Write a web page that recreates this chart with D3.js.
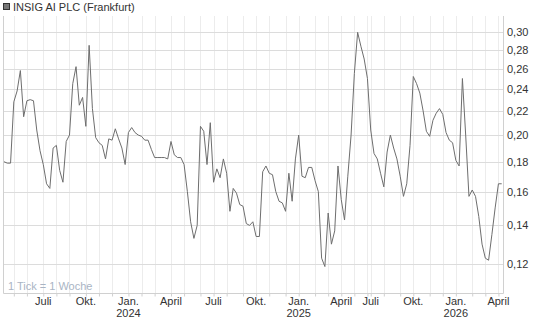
<!DOCTYPE html>
<html>
<head>
<meta charset="utf-8">
<script src="https://cdn.jsdelivr.net/npm/d3@7"></script>
<style>
body { margin: 0; background: #fff; }
text { font-family: "Liberation Sans", Arial, sans-serif; }
</style>
</head>
<body>
<svg width="545" height="327"></svg>
<script>
var title = "INSIG AI PLC (Frankfurt)";
var tickNote = "1 Tick = 1 Woche";

// weekly closes, one per week starting with this Friday
var firstWeek = "2023-04-14";
// no quotes for a few weeks after this date
var gapAfter = "2025-05-23", gapWeeks = 4;

var prices = [
  0.180, 0.179, 0.179, 0.228, 0.238, 0.258, 0.215, 0.229, 0.230, 0.229,
  0.204, 0.188, 0.178, 0.165, 0.162, 0.190, 0.192, 0.174, 0.166, 0.195,
  0.200, 0.245, 0.262, 0.225, 0.232, 0.207, 0.285, 0.222, 0.198, 0.194,
  0.192, 0.182, 0.197, 0.196, 0.205, 0.197, 0.190, 0.178, 0.202, 0.206,
  0.202, 0.200, 0.199, 0.196, 0.196, 0.189, 0.183, 0.183, 0.183, 0.183,
  0.182, 0.195, 0.185, 0.183, 0.183, 0.178, 0.160, 0.142, 0.133, 0.140,
  0.207, 0.203, 0.178, 0.210, 0.166, 0.175, 0.169, 0.182, 0.172, 0.148,
  0.162, 0.159, 0.152, 0.151, 0.141, 0.140, 0.142, 0.134, 0.134, 0.173,
  0.177, 0.172, 0.171, 0.160, 0.154, 0.153, 0.148, 0.172, 0.154, 0.182,
  0.200, 0.170, 0.169, 0.176, 0.176, 0.167, 0.160, 0.123, 0.119, 0.147,
  0.130, 0.137, 0.177, 0.155, 0.143, 0.170, 0.200, 0.255, 0.300, 0.284,
  0.270, 0.250, 0.204, 0.186, 0.182, 0.172, 0.163, 0.187, 0.200, 0.190,
  0.182, 0.170, 0.157, 0.165, 0.192, 0.252, 0.245, 0.236, 0.220, 0.203,
  0.199, 0.212, 0.218, 0.222, 0.217, 0.202, 0.196, 0.194, 0.181, 0.177,
  0.250, 0.200, 0.157, 0.161, 0.157, 0.145, 0.130, 0.123, 0.122, 0.135,
  0.150, 0.165, 0.165
];

var yTicks = [0.12, 0.14, 0.16, 0.18, 0.20, 0.22, 0.24, 0.26, 0.28, 0.30];
var yDomain = [0.1072, 0.320];
// labelled months (0 = Jan.)
var monthLabels = { 0: "Jan.", 3: "April", 6: "Juli", 9: "Okt." };

var svg = d3.select("svg");
var plotLeft = 3, plotRight = 503, plotTop = 16, plotBottom = 293;

// dates of the weekly points
var parse = d3.timeParse("%Y-%m-%d");
var gapDate = parse(gapAfter);
var dates = [];
var d = parse(firstWeek);
prices.forEach(function() {
  dates.push(d);
  var step = +d === +gapDate ? 7 * (gapWeeks + 1) : 7;
  d = d3.timeDay.offset(d, step);
});

// first point of every month (skip the very first point)
var monthStarts = [];
dates.forEach(function(dt, i) {
  if (i > 0 && dt.getMonth() !== dates[i - 1].getMonth()) monthStarts.push(i);
});

var x = d3.scaleLinear().domain([0, prices.length - 1]).range([4, 501.7]);
var y = d3.scaleLog().domain(yDomain).range([plotBottom, plotTop]);

// vertical grid
svg.append("g")
  .attr("transform", "translate(0," + plotBottom + ")")
  .call(d3.axisBottom(x).tickValues(monthStarts).tickSize(-(plotBottom - plotTop)).tickFormat(""))
  .call(function(g) {
    g.select(".domain").remove();
    g.selectAll("line").attr("stroke", "#ececec").attr("shape-rendering", "crispEdges");
  });

// horizontal grid
svg.append("g")
  .attr("transform", "translate(" + plotLeft + ",0)")
  .call(d3.axisLeft(y).tickValues(yTicks).tickSize(-(plotRight - plotLeft)).tickFormat(""))
  .call(function(g) {
    g.select(".domain").remove();
    g.selectAll("line").attr("stroke", "#dcdcdc").attr("shape-rendering", "crispEdges");
  });

// frame
svg.append("path")
  .attr("d", "M" + (plotLeft + 0.5) + "," + plotTop + "V" + (plotBottom + 0.5) + "H" + (plotRight + 0.5) + "V" + plotTop)
  .attr("fill", "none")
  .attr("stroke", "#d0d0d0");

// small ticks under the frame
svg.append("g")
  .attr("transform", "translate(0," + (plotBottom + 0.5) + ")")
  .call(d3.axisBottom(x).tickValues(monthStarts).tickSize(3).tickFormat(""))
  .call(function(g) {
    g.select(".domain").remove();
    g.selectAll("line").attr("stroke", "#d0d0d0");
  });

// price line
var line = d3.line()
  .x(function(v, i) { return x(i); })
  .y(function(v) { return y(v); });

svg.append("path")
  .datum(prices)
  .attr("fill", "none")
  .attr("stroke", "#6e6e6e")
  .attr("stroke-width", 1)
  .attr("d", line);

// y labels on the right
svg.append("g")
  .attr("transform", "translate(" + plotRight + ",0)")
  .call(d3.axisRight(y).tickValues(yTicks).tickSize(0).tickPadding(4)
    .tickFormat(function(v) { return d3.format(".2f")(v).replace(".", ","); }))
  .call(function(g) {
    g.select(".domain").remove();
    g.selectAll("text").attr("font-size", 11).attr("fill", "#333")
      .attr("font-family", "Liberation Sans, Arial, sans-serif");
  });

// x labels
var quarterTicks = monthStarts.filter(function(i) { return dates[i].getMonth() in monthLabels; });
var xl = svg.append("g").selectAll("text")
  .data(quarterTicks)
  .enter().append("text")
  .attr("x", function(i) { return x(i); })
  .attr("y", 305)
  .attr("text-anchor", "middle")
  .attr("font-size", 11)
  .attr("fill", "#333");
xl.append("tspan").text(function(i) { return monthLabels[dates[i].getMonth()]; });
xl.filter(function(i) { return dates[i].getMonth() === 0; })
  .append("tspan")
  .attr("x", function(i) { return x(i); })
  .attr("dy", 12)
  .text(function(i) { return dates[i].getFullYear(); });

// note inside the plot
svg.append("text")
  .attr("x", 8)
  .attr("y", 290)
  .attr("font-size", 11)
  .attr("fill", "#a9b4c4")
  .text(tickNote);

// legend
svg.append("rect")
  .attr("x", 3.5).attr("y", 3.5).attr("width", 6).attr("height", 6)
  .attr("fill", "#777").attr("stroke", "#333");
svg.append("text")
  .attr("x", 13)
  .attr("y", 11)
  .attr("font-size", 11)
  .attr("fill", "#333")
  .text(title);
</script>
</body>
</html>
